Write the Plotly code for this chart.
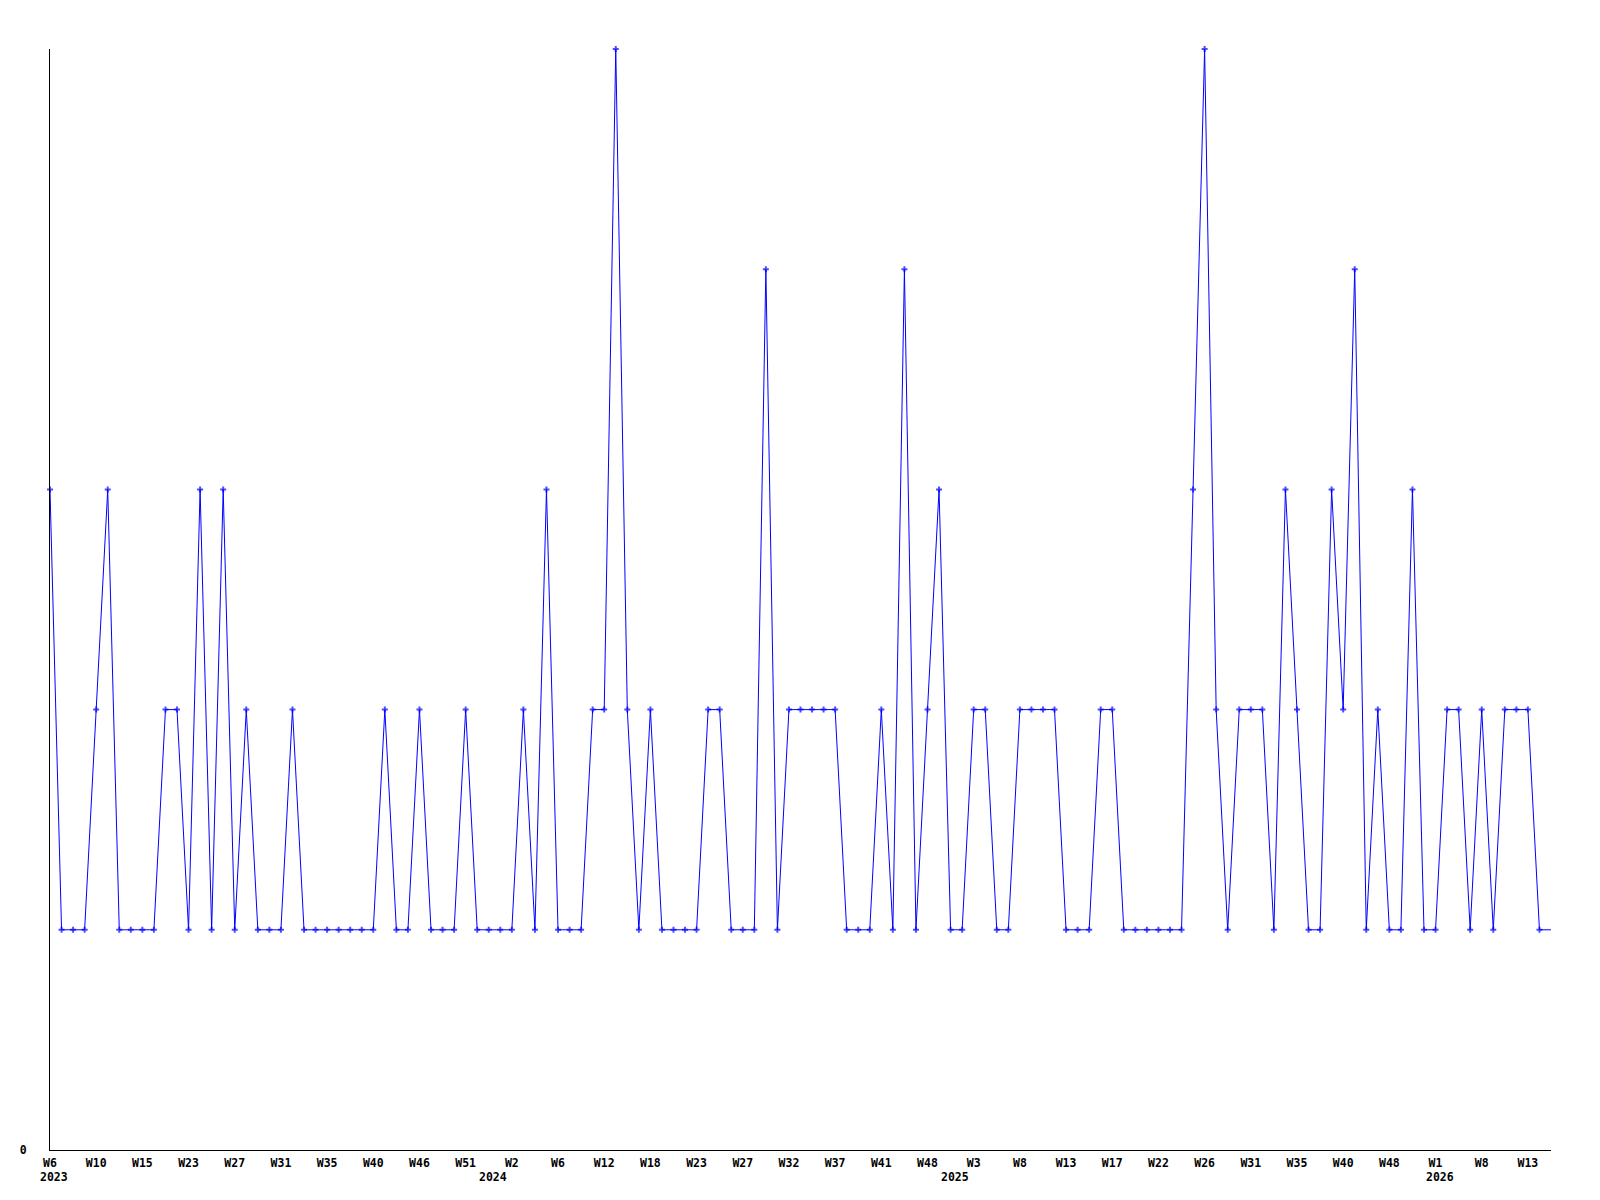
import plotly.graph_objects as go

# Weekly counts (one point per category, in order)
values = [
    3, 1, 1, 1, 2, 3, 1, 1, 1, 1, 2, 2, 1, 3, 1, 3, 1, 2, 1, 1, 1, 2,
    1, 1, 1, 1, 1, 1, 1, 2, 1, 1, 2, 1, 1, 1, 2, 1, 1, 1, 1, 2, 1, 3,
    1, 1, 1, 2, 2, 5, 2, 1, 2, 1, 1, 1, 1, 2, 2, 1, 1, 1, 4, 1,
    2, 2, 2, 2, 2, 1, 1, 1, 2, 1, 4, 1, 2, 3, 1, 1, 2, 2, 1, 1,
    2, 2, 2, 2, 1, 1, 1, 2, 2, 1, 1, 1, 1, 1, 1, 3, 5, 2, 1, 2, 2, 2,
    1, 3, 2, 1, 1, 3, 2, 4, 1, 2, 1, 1, 3, 1, 1, 2, 2, 1, 2, 1, 2, 2, 2,
    1, 1,
]

# Tick labels shown every 4th category
tick_labels = [
    "W6", "W10", "W15", "W23", "W27", "W31", "W35", "W40", "W46", "W51",
    "W2", "W6", "W12", "W18", "W23", "W27", "W32", "W37", "W41", "W48",
    "W3", "W8", "W13", "W17", "W22", "W26", "W31", "W35", "W40", "W48",
    "W1", "W8", "W13",
]
tick_step = 4

# Year labels and the category index where each year starts
year_labels = ["2023", "2024", "2025", "2026"]
year_index = [0, 38, 78, 120]

x = list(range(len(values)))
sizes = [5] * (len(values) - 1) + [0]

font = dict(family="DejaVu Sans Mono", size=11.5, color="black", weight="bold")

fig = go.Figure()
fig.add_trace(go.Scatter(
    x=x, y=values, mode="lines+markers",
    line=dict(color="#0000FF", width=1),
    marker=dict(symbol="cross", size=sizes, color="#0000FF", line=dict(width=0)),
    cliponaxis=False, showlegend=False, hoverinfo="skip",
))

for lab, idx in zip(year_labels, year_index):
    fig.add_annotation(
        x=idx, y=0, xref="x", yref="paper", text=lab, showarrow=False,
        xanchor="center", yanchor="middle", yshift=-27, xshift=4, font=font,
    )

fig.update_layout(
    width=1592, height=1192,
    margin=dict(l=42, r=49, t=41, b=50),
    paper_bgcolor="white", plot_bgcolor="white",
    xaxis=dict(
        range=[0, len(values) - 1],
        tickvals=[i * tick_step for i in range(len(tick_labels))],
        ticktext=tick_labels,
        showgrid=False, zeroline=False, showline=True, linecolor="black",
        linewidth=1, ticks="", tickfont=font, ticklabelstandoff=2,
    ),
    yaxis=dict(
        range=[0, 5], tickvals=[0], ticktext=["0"],
        showgrid=False, zeroline=False, showline=True, linecolor="black",
        linewidth=1, ticks="", tickfont=font, ticklabelstandoff=20,
    ),
)

fig.write_html("out.html")
